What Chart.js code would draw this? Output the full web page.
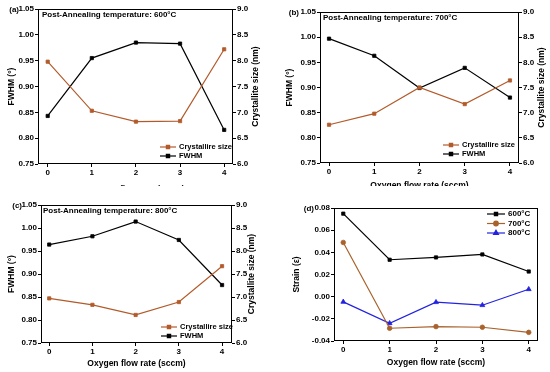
<!DOCTYPE html>
<html>
<head>
<meta charset="utf-8">
<script src="https://cdn.jsdelivr.net/npm/chart.js@4/dist/chart.umd.min.js"></script>
<style>
  html, body { margin: 0; padding: 0; background: #fff; }
  body { width: 550px; height: 372px; position: relative; overflow: hidden; }
  .panel { position: absolute; overflow: hidden; }
  .panel canvas { position: absolute; left: 0; top: 0; }
</style>
</head>
<body>
<div class="panel" style="left:0;top:0;width:275px;height:186px"><canvas id="ca" width="275" height="200"></canvas></div>
<div class="panel" style="left:275px;top:0;width:275px;height:186px"><canvas id="cb" width="275" height="200"></canvas></div>
<div class="panel" style="left:0;top:186px;width:275px;height:186px"><canvas id="cc" width="275" height="186"></canvas></div>
<div class="panel" style="left:275px;top:186px;width:275px;height:186px"><canvas id="cd" width="275" height="186"></canvas></div>
<script>
const flowRates = [0, 1, 2, 3, 4];

const fwhm600 = [0.843, 0.955, 0.985, 0.983, 0.816];
const size600 = [7.98, 7.03, 6.82, 6.83, 8.22];
const fwhm700 = [0.997, 0.963, 0.899, 0.939, 0.880];
const size700 = [6.76, 6.98, 7.50, 7.17, 7.64];
const fwhm800 = [0.964, 0.982, 1.014, 0.974, 0.876];
const size800 = [6.97, 6.83, 6.61, 6.89, 7.67];

const strain600 = [0.0749, 0.0333, 0.0354, 0.0381, 0.0227];
const strain700 = [0.0489, -0.0285, -0.0270, -0.0276, -0.0322];
const strain800 = [-0.0047, -0.0240, -0.0050, -0.0077, 0.0067];

const fwhmTicks = [0.75, 0.80, 0.85, 0.90, 0.95, 1.00, 1.05];
const sizeTicks = [6.0, 6.5, 7.0, 7.5, 8.0, 8.5, 9.0];
const strainTicks = [-0.04, -0.02, 0.00, 0.02, 0.04, 0.06, 0.08];

const FONT = "'Liberation Sans', Arial, sans-serif";
const BROWN = '#B35A2A';
const BROWN2 = '#A8622C';
const BLUE = '#2222E0';

Chart.defaults.font.family = FONT;
Chart.defaults.font.size = 8;
Chart.defaults.font.weight = 'bold';
Chart.defaults.color = '#000';

function pts(arr) {
  return flowRates.map((x, i) => ({ x: x, y: arr[i] }));
}

function series(label, arr, color, axis, style) {
  return {
    label: label,
    data: pts(arr),
    yAxisID: axis,
    borderColor: color,
    backgroundColor: color,
    borderWidth: 1.2,
    pointStyle: style || 'rect',
    pointRadius: style === 'triangle' ? 2.8 : 2.3,
    pointBorderWidth: 0.8,
    tension: 0,
  };
}

// frame, panel tag, inner title, right title and inner legend
const decor = {
  id: 'decor',
  afterDraw(chart) {
    const o = chart.options.plugins.decor;
    const a = chart.chartArea;
    const c = chart.ctx;
    c.save();
    c.strokeStyle = '#000';
    c.lineWidth = 1;
    c.strokeRect(Math.round(a.left) + 0.5, Math.round(a.top) + 0.5,
      Math.round(a.right - a.left) - 1, Math.round(a.bottom - a.top) - 1);

    c.fillStyle = '#000';
    c.textBaseline = 'middle';
    c.font = 'bold 8px ' + FONT;
    c.textAlign = 'right';
    c.fillText(o.tag, a.left - o.tagGap, a.top + 0.5);

    if (o.title) {
      c.textAlign = 'left';
      c.font = 'bold 8px ' + FONT;
      c.fillText(o.title, a.left + o.titleDx, a.top + 6);
    }

    if (o.rightTitle) {
      c.save();
      c.translate(o.rightX, (a.top + a.bottom) / 2);
      c.rotate(-Math.PI / 2);
      c.textAlign = 'center';
      c.font = 'bold 8.5px ' + FONT;
      c.fillText(o.rightTitle, 0, 0);
      c.restore();
    }

    const lg = o.legend;
    lg.order.forEach((di, row) => {
      const ds = chart.data.datasets[di];
      const x0 = a.right - lg.dx;
      const y = lg.fromTop ? a.top + lg.dy + row * lg.row : a.bottom - lg.dy + row * lg.row;
      c.strokeStyle = ds.borderColor;
      c.fillStyle = ds.backgroundColor;
      c.lineWidth = 1.2;
      c.beginPath();
      c.moveTo(x0, y);
      c.lineTo(x0 + lg.len, y);
      c.stroke();
      Chart.helpers.drawPoint(c, {
        pointStyle: ds.pointStyle, radius: ds.pointRadius, borderWidth: 0.8, rotation: 0
      }, x0 + lg.len / 2, y);
      c.fillStyle = '#000';
      c.textAlign = 'left';
      c.font = 'bold ' + lg.size + 'px ' + FONT;
      c.fillText(ds.label, x0 + lg.len + 3, y);
    });
    c.restore();
  }
};

function fixedTicks(list) {
  return s => { s.ticks = list.map(v => ({ value: v })); };
}

function axisBase() {
  return {
    type: 'linear',
    grid: { drawOnChartArea: false, drawTicks: true, tickLength: 3, color: '#000', lineWidth: 1 },
    border: { display: false },
  };
}

function makePanel(id, cfg) {
  const box = cfg.box;
  const p = cfg.plot;
  const scales = {
    x: Object.assign(axisBase(), {
      position: 'bottom',
      min: cfg.xMin, max: cfg.xMax,
      afterBuildTicks: fixedTicks(flowRates),
      afterFit: s => { s.height = box.h - (p.b - box.y); },
      ticks: { padding: 1, autoSkip: false, maxRotation: 0, callback: v => String(v) },
      title: { display: true, text: 'Oxygen flow rate (sccm)', padding: cfg.xPad, font: { size: 8.5, weight: 'bold' } },
    }),
    y: Object.assign(axisBase(), {
      position: 'left',
      min: cfg.yTicks[0], max: cfg.yTicks[cfg.yTicks.length - 1],
      afterBuildTicks: fixedTicks(cfg.yTicks),
      afterFit: s => { s.width = p.l - box.x; },
      ticks: { padding: 1, callback: v => v.toFixed(2) },
      title: { display: true, text: cfg.yTitle, padding: cfg.yPad, font: { size: 8.5, weight: 'bold' } },
    }),
  };
  if (cfg.y1Ticks) {
    scales.y1 = Object.assign(axisBase(), {
      position: 'right',
      min: cfg.y1Ticks[0], max: cfg.y1Ticks[cfg.y1Ticks.length - 1],
      afterBuildTicks: fixedTicks(cfg.y1Ticks),
      afterFit: s => { s.width = box.x + box.w - p.r; },
      ticks: { padding: 1, callback: v => v.toFixed(1) },
    });
  }
  new Chart(document.getElementById(id), {
    type: 'line',
    data: { datasets: cfg.datasets },
    options: {
      responsive: false,
      animation: false,
      layout: { padding: { top: p.t - box.y, left: 0, bottom: 0, right: cfg.y1Ticks ? 0 : box.x + box.w - p.r } },
      plugins: {
        legend: { display: false },
        tooltip: { enabled: false },
        decor: cfg.decor,
      },
      scales: scales,
    },
    plugins: [decor],
  });
}

function fwhmPanel(id, box, plot, temp, tag, fwhm, size, opts) {
  makePanel(id, {
    box: box, plot: plot,
    xMin: opts.xMin, xMax: opts.xMax,
    yTicks: fwhmTicks, y1Ticks: sizeTicks,
    yTitle: 'FWHM (°)', yPad: opts.yPad, xPad: opts.xPad,
    datasets: [
      series('Crystallire size', size, BROWN, 'y1'),
      series('FWHM', fwhm, '#000', 'y'),
    ],
    decor: {
      tag: tag, tagGap: opts.tagGap,
      title: 'Post-Annealing temperature: ' + temp,
      titleDx: opts.titleDx,
      rightTitle: 'Crystallite size (nm)', rightX: opts.rightX,
      legend: { order: [0, 1], dx: opts.legDx, dy: opts.legDy, row: 9, len: 16, size: 7.5 },
    },
  });
}

fwhmPanel('ca', { x: 0, y: 0, w: 275, h: 200 }, { l: 38, r: 233, t: 9, b: 164 }, '600°C', '(a)',
  fwhm600, size600, { xMin: -0.22, xMax: 4.2, yPad: 7, xPad: 5, tagGap: 19, titleDx: 4, rightX: 256, legDx: 73, legDy: 17 });

fwhmPanel('cb', { x: 275, y: 0, w: 275, h: 200 }, { l: 320, r: 519, t: 12, b: 163 }, '700°C', '(b)',
  fwhm700, size700, { xMin: -0.2, xMax: 4.2, yPad: 10, xPad: 9, tagGap: 21, titleDx: 3, rightX: 267, legDx: 76, legDy: 18 });

fwhmPanel('cc', { x: 0, y: 186, w: 275, h: 186 }, { l: 41, r: 232, t: 205, b: 343 }, '800°C', '(c)',
  fwhm800, size800, { xMin: -0.19, xMax: 4.23, yPad: 7, xPad: 3, tagGap: 19, titleDx: 2, rightX: 252, legDx: 71, legDy: 16 });

makePanel('cd', {
  box: { x: 275, y: 186, w: 275, h: 186 },
  plot: { l: 334, r: 538, t: 208, b: 341 },
  xMin: -0.2, xMax: 4.2,
  yTicks: strainTicks,
  yTitle: 'Strain (ε)', yPad: 17, xPad: 4,
  datasets: [
    series('600°C', strain600, '#000', 'y'),
    series('700°C', strain700, BROWN2, 'y', 'circle'),
    series('800°C', strain800, BLUE, 'y', 'triangle'),
  ],
  decor: {
    tag: '(d)', tagGap: 20,
    legend: { order: [0, 1, 2], dx: 51, dy: 6, row: 9.5, len: 18, size: 8, fromTop: true },
  },
});
</script>
</body>
</html>
